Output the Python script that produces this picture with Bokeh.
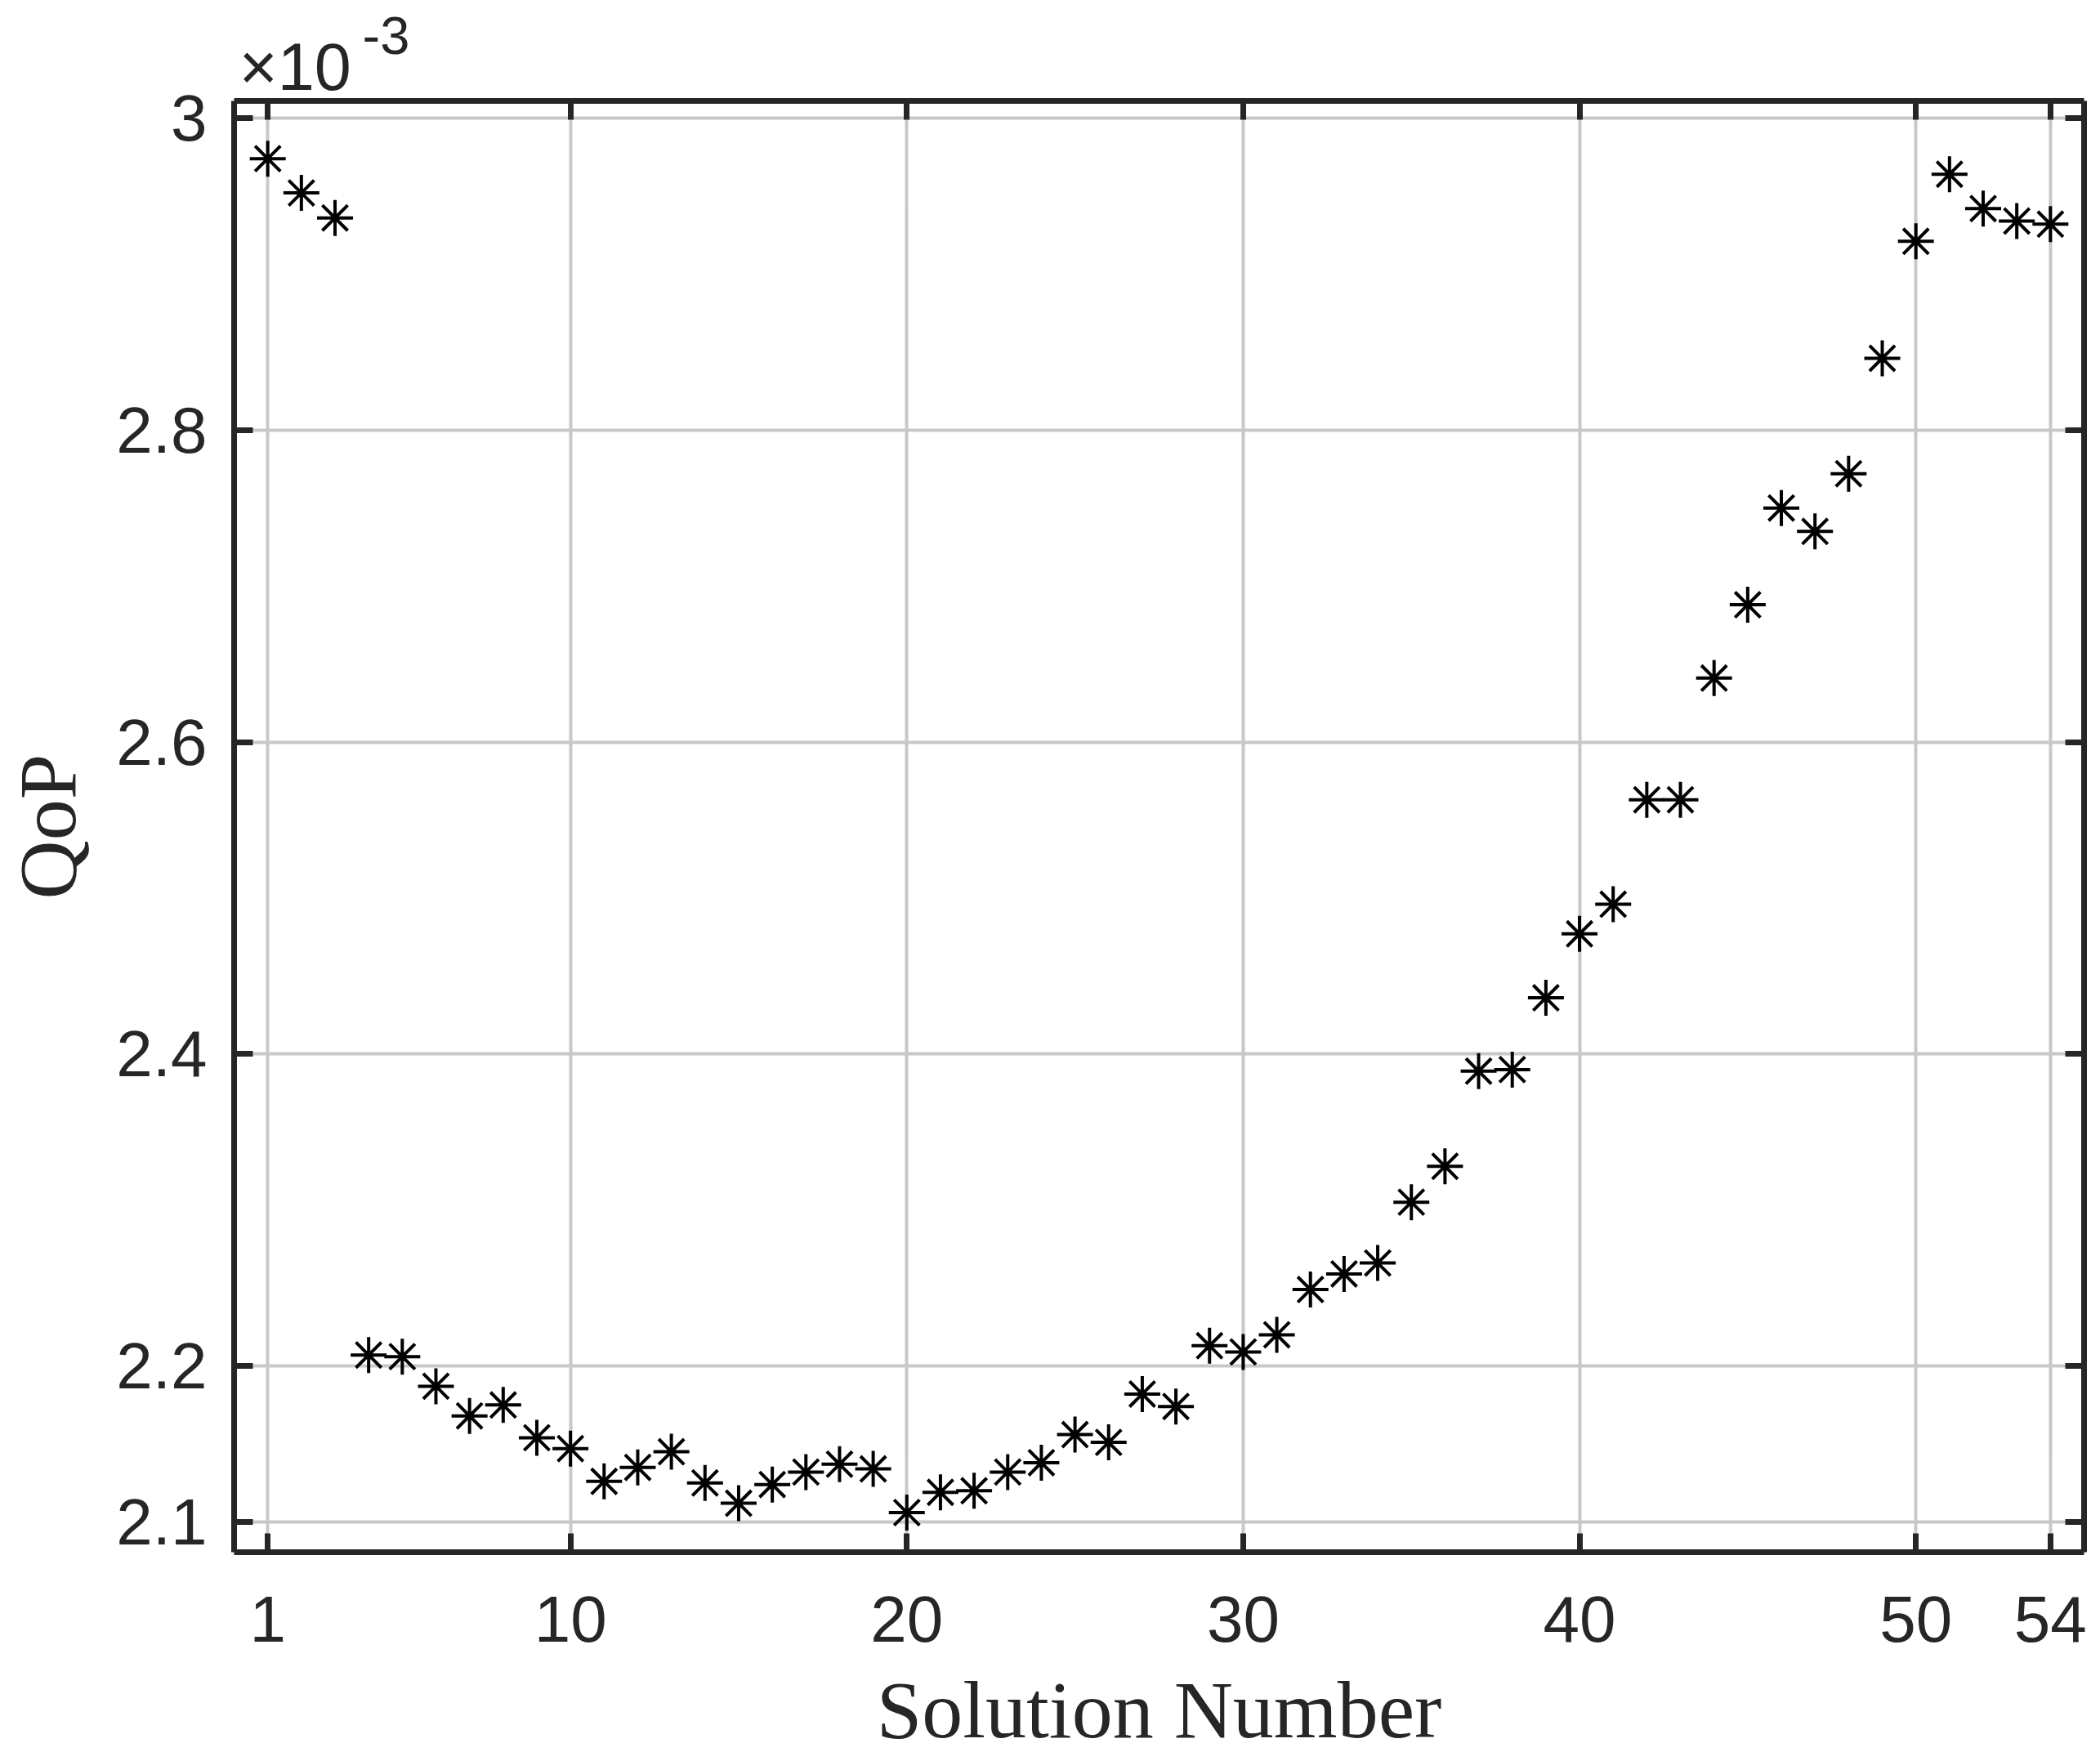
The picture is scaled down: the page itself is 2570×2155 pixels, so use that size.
from bokeh.plotting import figure
from bokeh.models import (Range1d, FixedTicker, LinearAxis, Title,
                          CustomJSTickFormatter, ColumnDataSource)
from bokeh.embed import file_html
from bokeh.resources import INLINE

# ---- data (QoP values in units of 1e-3) ----
solution_number = list(range(1, 55))
qop_x1e3 = [2.974, 2.952, 2.936, 2.207, 2.206, 2.187, 2.168, 2.175, 2.154, 2.147,
            2.126, 2.135, 2.145, 2.125, 2.112, 2.124, 2.132, 2.137, 2.134, 2.106,
            2.119, 2.120, 2.132, 2.138, 2.156, 2.151, 2.182, 2.174, 2.213, 2.209,
            2.220, 2.249, 2.259, 2.266, 2.305, 2.328, 2.389, 2.390, 2.436, 2.477,
            2.496, 2.563, 2.563, 2.641, 2.688, 2.750, 2.735, 2.772, 2.846, 2.921,
            2.964, 2.942, 2.934, 2.932]
x_ticks = [1, 10, 20, 30, 40, 50, 54]
y_ticks = [2.1, 2.2, 2.4, 2.6, 2.8, 3.0]
x_label = "Solution Number"
y_label = "QoP"
exp_base = "\u00d710"
exp_power = "-3"

# ---- layout ----
FW, FH = 2264, 1776
ML, MT, MR, MB = 279, 123, 11, 240
X0, X1 = 0.0, 55.0
Y0, Y1 = 2.0806, 3.011
AX = "#262626"
TICK_FONT = "Liberation Sans"
LABEL_FONT = "Liberation Serif"

p = figure(title=None, frame_width=FW, frame_height=FH,
           min_border_left=ML, min_border_top=MT,
           min_border_right=MR, min_border_bottom=MB,
           x_range=Range1d(X0, X1), y_range=Range1d(Y0, Y1),
           output_backend="svg", toolbar_location=None,
           background_fill_color="white", border_fill_color="white")
p.outline_line_color = None

xt = FixedTicker(ticks=x_ticks, minor_ticks=[])
yt = FixedTicker(ticks=y_ticks, minor_ticks=[])
yfmt = CustomJSTickFormatter(code="return (Math.round(tick*10)/10).toString();")

def style_axis(ax, show_labels, standoff):
    ax.axis_line_color = AX
    ax.axis_line_width = 7
    ax.major_tick_line_color = AX
    ax.major_tick_line_width = 7
    ax.major_tick_in = 23
    ax.major_tick_out = 0
    ax.minor_tick_line_color = None
    ax.major_label_text_font = TICK_FONT
    ax.major_label_text_color = AX
    if show_labels:
        ax.major_label_text_font_size = "80px"
        ax.major_label_standoff = standoff
    else:
        ax.major_label_text_color = None
        ax.major_label_text_font_size = "1px"
        ax.major_label_standoff = 0

xax = p.xaxis[0]
yax = p.yaxis[0]
xax.ticker = xt
yax.ticker = yt
yax.formatter = yfmt
style_axis(xax, True, 54)
style_axis(yax, True, 33)

for ax, lab, so in ((xax, x_label, 25), (yax, y_label, 25)):
    ax.axis_label = lab
    ax.axis_label_text_font = LABEL_FONT
    ax.axis_label_text_font_size = "100px"
    ax.axis_label_text_font_style = "normal"
    ax.axis_label_text_color = AX
    ax.axis_label_standoff = so

top_ax = LinearAxis(ticker=xt)
right_ax = LinearAxis(ticker=yt)
style_axis(top_ax, False, 0)
style_axis(right_ax, False, 0)
p.add_layout(top_ax, "above")
p.add_layout(right_ax, "right")

# "x10^-3" multiplier above the frame's top-left corner
p.add_layout(Title(text=exp_base, align="left", offset=6, standoff=-6,
                   text_font=TICK_FONT, text_font_size="81px",
                   text_font_style="normal", text_color=AX), "above")
p.add_layout(Title(text=exp_power, align="left", offset=157, standoff=-57,
                   text_font=TICK_FONT, text_font_size="65px",
                   text_font_style="normal", text_color=AX), "above")

p.xgrid.ticker = xt
p.ygrid.ticker = yt
for g in (p.xgrid[0], p.ygrid[0]):
    g.grid_line_color = "#c8c8c8"
    g.grid_line_width = 4

src = ColumnDataSource(dict(x=solution_number, y=qop_x1e3))
p.scatter("x", "y", source=src, marker="asterisk", size=44,
          line_color="black", line_width=4)

open("out.html", "w").write(file_html(p, INLINE))
